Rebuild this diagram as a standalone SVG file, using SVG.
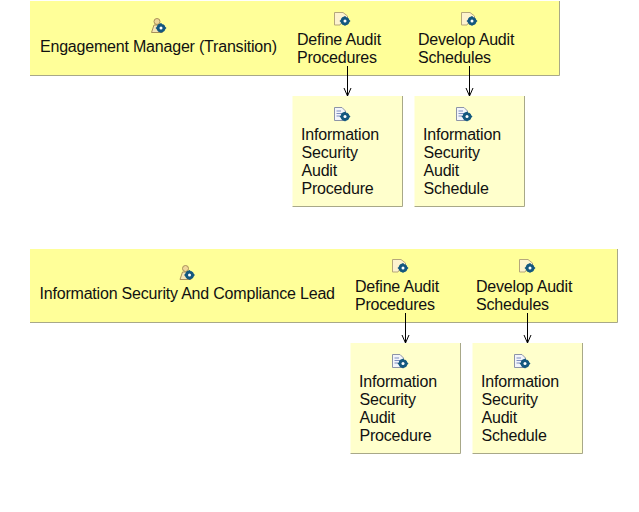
<svg xmlns="http://www.w3.org/2000/svg" width="639" height="512" viewBox="0 0 639 512">
<style>
text{font-family:"Liberation Sans",Arial,sans-serif;font-size:16px;fill:#111;letter-spacing:-0.2px}
.edge{stroke:#a8a888;stroke-width:1;fill:none}
.conn{stroke:#000;stroke-width:1;fill:none;marker-end:url(#arr)}
.lane{fill:#ffff99}
.box{fill:#ffffcc}
</style>
<defs>
<marker id="arr" markerUnits="userSpaceOnUse" markerWidth="10" markerHeight="10" refX="8" refY="4" orient="auto">
<path d="M0 0.5L8 4L0 7.5" fill="none" stroke="#000"/>
</marker>
<g id="cyc">
<path d="M-5.500 0L0 -5L5.500 0L0 5Z" fill="#14587f"/>
<circle cx="0" cy="0" r="3.400" fill="none" stroke="#14587f" stroke-width="2" stroke-dasharray="4.500 1.200"/>
<circle cx="0" cy="0" r="1.500" fill="#fff"/>
</g>
<g id="task">
<path d="M0.500 0.500H9L13.500 4V10H8L6 13H0.500Z" fill="#fdf3cf" stroke="#b5a77c"/>
<use href="#cyc" x="11" y="9"/>
</g>
<g id="doc">
<path d="M0.500 0.500H8L11.500 4V13.500H0.500Z" fill="#f3f5fa" stroke="#8d94a8"/>
<path d="M2.500 4H7M2.500 6.500H9M2.500 9H6" stroke="#7f8fc0" fill="none"/>
<use href="#cyc" x="11" y="9.500"/>
</g>
<g id="person">
<circle cx="6.500" cy="3.500" r="3" fill="#f0d79a" stroke="#a8905a"/>
<path d="M1 14.500L3.500 7H9.500L12 14.500Z" fill="#f5e6b8" stroke="#a8905a"/>
<use href="#cyc" x="10.500" y="10"/>
</g>
</defs>

<g id="lane-engagement-manager">
<rect class="lane" x="30" y="1" width="529" height="74"/>
<path class="edge" d="M30 75.500H559.500V1"/>
<use href="#person" x="150.500" y="18"/>
<text x="40" y="51.500">Engagement Manager (Transition)</text>
</g>
<g id="task-define-1">
<use href="#task" x="334" y="12"/>
<text x="297" y="44.500">Define Audit</text>
<text x="297" y="62.500">Procedures</text>
</g>
<g id="task-develop-1">
<use href="#task" x="461" y="12"/>
<text x="418" y="44.500">Develop Audit</text>
<text x="418" y="62.500">Schedules</text>
</g>
<g id="artifact-procedure-1">
<rect class="box" x="292.500" y="96" width="109.500" height="110"/>
<path class="edge" d="M292.500 206.500H402.500V96"/>
<use href="#doc" x="334" y="107"/>
<text x="301" y="139.500">Information</text>
<text x="301.500" y="157.500">Security</text>
<text x="301.500" y="175.500">Audit</text>
<text x="301.500" y="193.500">Procedure</text>
</g>
<g id="artifact-schedule-1">
<rect class="box" x="414.500" y="96" width="109.500" height="110"/>
<path class="edge" d="M414.500 206.500H524.500V96"/>
<use href="#doc" x="456" y="107"/>
<text x="423" y="139.500">Information</text>
<text x="423.500" y="157.500">Security</text>
<text x="423.500" y="175.500">Audit</text>
<text x="423.500" y="193.500">Schedule</text>
</g>

<g id="lane-infosec-lead">
<rect class="lane" x="30" y="249" width="587" height="73"/>
<path class="edge" d="M30 322.500H617.500V249"/>
<use href="#person" x="179" y="265"/>
<text x="39.500" y="298.500">Information Security And Compliance Lead</text>
</g>
<g id="task-define-2">
<use href="#task" x="392" y="259"/>
<text x="355" y="291.500">Define Audit</text>
<text x="355" y="309.500">Procedures</text>
</g>
<g id="task-develop-2">
<use href="#task" x="519" y="259"/>
<text x="476" y="291.500">Develop Audit</text>
<text x="476" y="309.500">Schedules</text>
</g>
<g id="artifact-procedure-2">
<rect class="box" x="350.500" y="343" width="109.500" height="110"/>
<path class="edge" d="M350.500 453.500H460.500V343"/>
<use href="#doc" x="392" y="354"/>
<text x="359" y="386.500">Information</text>
<text x="359.500" y="404.500">Security</text>
<text x="359.500" y="422.500">Audit</text>
<text x="359.500" y="440.500">Procedure</text>
</g>
<g id="artifact-schedule-2">
<rect class="box" x="472.500" y="343" width="109.500" height="110"/>
<path class="edge" d="M472.500 453.500H582.500V343"/>
<use href="#doc" x="514" y="354"/>
<text x="481" y="386.500">Information</text>
<text x="481.500" y="404.500">Security</text>
<text x="481.500" y="422.500">Audit</text>
<text x="481.500" y="440.500">Schedule</text>
</g>

<g id="connectors">
<path class="conn" d="M347.500 66V96"/>
<path class="conn" d="M469.500 66V96"/>
<path class="conn" d="M405.500 313V343"/>
<path class="conn" d="M527.500 313V343"/>
</g>
</svg>
